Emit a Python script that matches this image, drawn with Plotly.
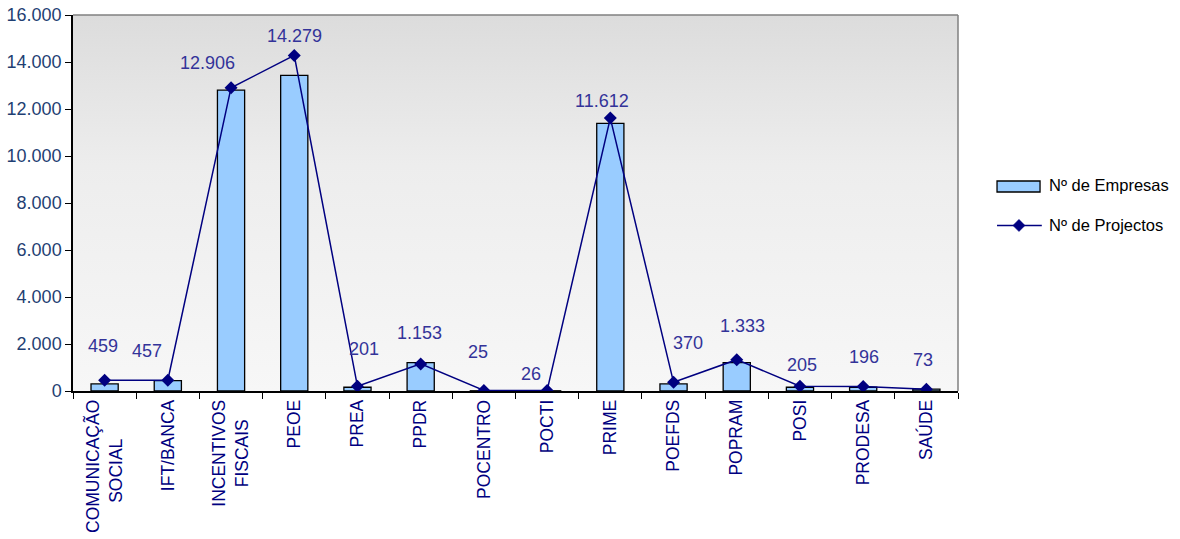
import plotly.graph_objects as go

NB = "\u00a0"
categories = ["COMUNICAÇÃO<br>SOCIAL" + NB * 8, "IFT/BANCA", "INCENTIVOS<br>FISCAIS" + NB * 4, "PEOE", "PREA",
              "PPDR", "POCENTRO", "POCTI", "PRIME", "POEFDS", "POPRAM", "POSI", "PRODESA", "SAÚDE"]
empresas = [300, 440, 12800, 13430, 160, 1205, 10, 10, 11390, 300, 1205, 160, 160, 80]
projectos = [459, 457, 12906, 14279, 201, 1153, 25, 26, 11612, 370, 1333, 205, 196, 73]
label_texts = ["459", "457", "12.906", "14.279", "201", "1.153", "25", "26", "11.612",
               "370", "1.333", "205", "196", "73"]
y_ticks = [0, 2000, 4000, 6000, 8000, 10000, 12000, 14000, 16000]
series_names = ["Nº de Empresas", "Nº de Projectos"]

# label placement (pixels relative to marker)
label_dy = [34, 29, 25, 19, 37, 31, 38, 16, 17, 39, 34, 21, 29, 29]
label_dx = [-2, -21, -24, 0, 7, -1, -6, -16, -8, 14, 6, 2, 1, -3]

n = len(categories)
xs = list(range(n))
x_lo, x_hi = -0.5, n - 0.5
y_top = y_ticks[-1]
FONT = "Liberation Sans, Arial"
BAR_COLOR = "#99CCFF"
LINE_COLOR = "#000080"

fig = go.Figure()

# gradient background of plot area (on the base axes, drawn underneath)
fig.add_trace(go.Scatter(
    x=[x_lo, x_hi, x_hi, x_lo, x_lo], y=[0, 0, y_top, y_top, 0],
    mode="lines", line=dict(width=0), fill="toself",
    fillgradient=dict(type="vertical", colorscale=[[0, "#F7F7F7"], [0.6, "#EDEDED"], [1, "#DCDCDC"]]),
    showlegend=False, hoverinfo="skip", xaxis="x", yaxis="y"))

fig.add_trace(go.Bar(
    x=xs, y=empresas, name=series_names[0], width=0.43, showlegend=False,
    marker=dict(color=BAR_COLOR, line=dict(color="black", width=1.3)),
    xaxis="x2", yaxis="y2"))

fig.add_trace(go.Scatter(
    x=xs, y=projectos, name=series_names[1], mode="lines+markers", showlegend=False,
    line=dict(color=LINE_COLOR, width=1.5),
    marker=dict(symbol="diamond", size=10, color=LINE_COLOR),
    xaxis="x2", yaxis="y2"))

for i in range(n):
    fig.add_annotation(x=xs[i], y=projectos[i], xref="x2", yref="y2",
                       text=label_texts[i], showarrow=False,
                       xshift=label_dx[i], yshift=label_dy[i],
                       font=dict(family=FONT, size=18, color="#333399"))

# top and right border of the plot area
fig.add_shape(type="line", xref="paper", yref="paper", x0=0, x1=1, y0=1, y1=1,
              line=dict(color="#808080", width=1.5), layer="above")
fig.add_shape(type="line", xref="paper", yref="paper", x0=1, x1=1, y0=0, y1=1,
              line=dict(color="#808080", width=1.5), layer="above")

# legend (drawn to match the wide Excel-style legend keys)
lx0, lx1, ltx = 1.0441, 1.0927, 1.1006
fig.add_shape(type="rect", xref="paper", yref="paper", x0=lx0, x1=lx1, y0=0.5293, y1=0.5585,
              fillcolor=BAR_COLOR, line=dict(color="black", width=1.3))
fig.add_annotation(xref="paper", yref="paper", x=ltx, y=0.5479, xanchor="left", yanchor="middle",
                   text=series_names[0], showarrow=False,
                   font=dict(family=FONT, size=16.5, color="black"))
ly = 0.4402
fig.add_shape(type="line", xref="paper", yref="paper", x0=lx0, x1=lx1 + 0.002, y0=ly, y1=ly,
              line=dict(color=LINE_COLOR, width=1.5))
dcx, ddx, ddy = 1.0689, 0.0066, 0.0156
fig.add_shape(type="path", xref="paper", yref="paper",
              path=f"M {dcx - ddx} {ly} L {dcx} {ly + ddy} L {dcx + ddx} {ly} L {dcx} {ly - ddy} Z",
              fillcolor=LINE_COLOR, line=dict(color=LINE_COLOR, width=1))
fig.add_annotation(xref="paper", yref="paper", x=ltx, y=ly, xanchor="left", yanchor="middle",
                   text=series_names[1], showarrow=False,
                   font=dict(family=FONT, size=16.5, color="black"))

fig.update_layout(
    width=1180, height=539,
    margin=dict(l=73, r=222, t=15, b=148),
    paper_bgcolor="white", plot_bgcolor="white",
    separators=",.",
    font=dict(family=FONT, size=18, color="black"),
    showlegend=False,
    xaxis=dict(range=[x_lo, x_hi], tickmode="array", tickvals=xs, ticktext=categories,
               tickangle=-90, ticks="", showgrid=False, zeroline=False, automargin=False,
               showline=True, linecolor="black", linewidth=1.5,
               tickfont=dict(family=FONT, size=17.5, color="#000080"),
               minor=dict(tick0=0.5, dtick=1, ticks="outside", ticklen=6,
                          tickcolor="black", tickwidth=1.2, showgrid=False)),
    yaxis=dict(range=[0, y_top], tickmode="array", tickvals=y_ticks, tickformat=",d",
               ticks="outside", ticklen=6, tickcolor="black", tickwidth=1.2, automargin=False,
               showgrid=False, zeroline=False, showline=True, linecolor="black", linewidth=1.5,
               tickfont=dict(family=FONT, size=18, color="#1F3F73")),
    xaxis2=dict(overlaying="x", range=[x_lo, x_hi], visible=False, showgrid=False, zeroline=False),
    yaxis2=dict(overlaying="y", range=[0, y_top], visible=False, showgrid=False, zeroline=False),
)

fig.write_html("out.html", config={"displayModeBar": False},
               post_script="document.body.style.margin='0';")
